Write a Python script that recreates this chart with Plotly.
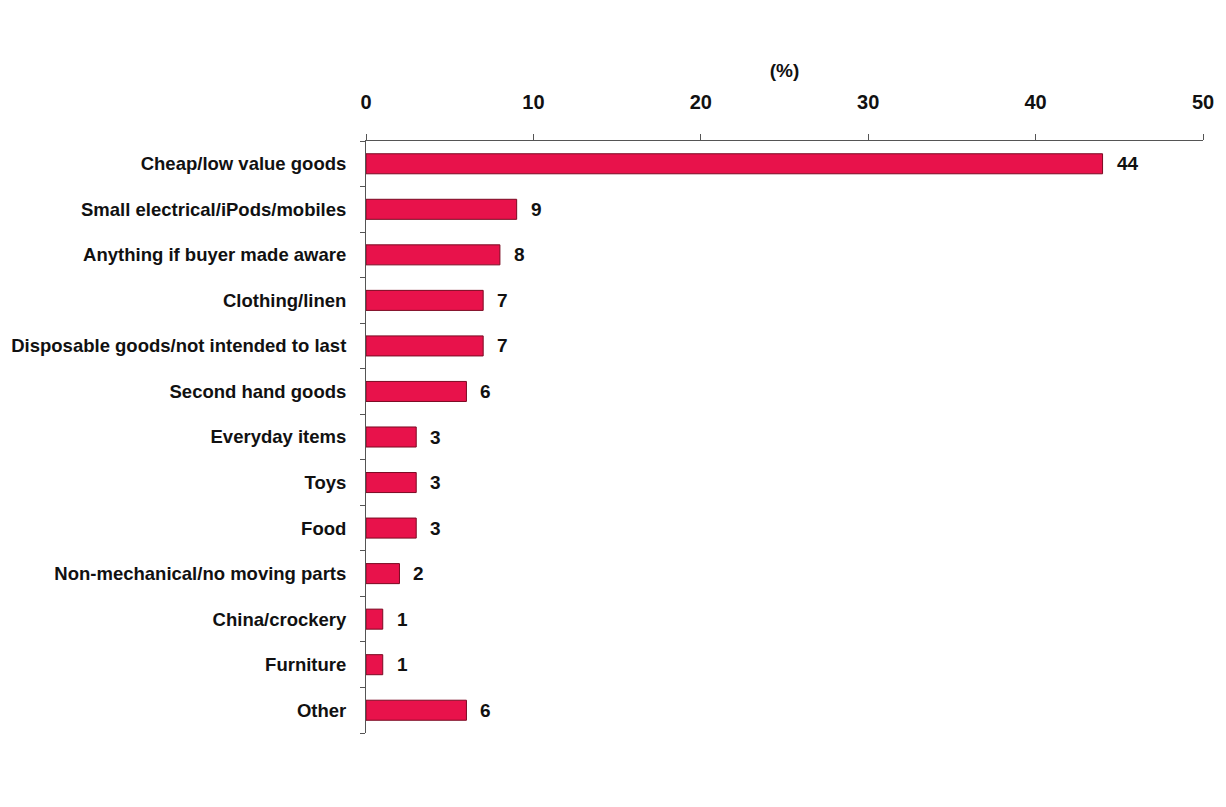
import plotly.graph_objects as go

categories = [
    "Cheap/low value goods",
    "Small electrical/iPods/mobiles",
    "Anything if buyer made aware",
    "Clothing/linen",
    "Disposable goods/not intended to last",
    "Second hand goods",
    "Everyday items",
    "Toys",
    "Food",
    "Non-mechanical/no moving parts",
    "China/crockery",
    "Furniture",
    "Other",
]
values = [44, 9, 8, 7, 7, 6, 3, 3, 3, 2, 1, 1, 6]
x_ticks = [0, 10, 20, 30, 40, 50]

FONT = "Liberation Sans, Arial, sans-serif"

fig = go.Figure(
    go.Bar(
        x=values,
        y=categories,
        orientation="h",
        width=0.44,
        marker=dict(color="#E8124B", line=dict(color="#7A0A22", width=1)),
        hoverinfo="x+y",
    )
)

# value labels just right of each bar
for cat, val in zip(categories, values):
    fig.add_annotation(
        x=val, y=cat, text=f"<b>{val}</b>", showarrow=False,
        xanchor="left", xshift=12,
        font=dict(family=FONT, size=19, color="#111111"),
    )

# page body adds an 8px offset, margins allow for it
fig.update_layout(
    width=1226,
    height=807,
    margin=dict(l=358, r=31, t=133, b=82),
    plot_bgcolor="white",
    paper_bgcolor="white",
    showlegend=False,
    font=dict(family=FONT, size=18, color="#111111"),
)

fig.update_xaxes(
    side="top",
    range=[0, 50],
    tickvals=x_ticks,
    ticktext=[f"<b>{t}</b>" for t in x_ticks],
    showgrid=False,
    zeroline=False,
    showline=True,
    linecolor="#555555",
    linewidth=1,
    ticks="outside",
    ticklen=6,
    tickcolor="#555555",
    ticklabelstandoff=17,
    automargin=False,
    tickfont=dict(family=FONT, size=20, color="#111111"),
    title=dict(text="<b>(%)</b>", standoff=8, font=dict(family=FONT, size=19, color="#111111")),
)

fig.update_yaxes(
    autorange="reversed",
    showgrid=False,
    showline=True,
    linecolor="#555555",
    linewidth=1,
    ticks="outside",
    tickson="boundaries",
    ticklen=5,
    tickcolor="#555555",
    ticklabelstandoff=15,
    automargin=False,
    tickvals=categories,
    ticktext=[f"<b>{c}</b>" for c in categories],
    tickfont=dict(family=FONT, size=18.5, color="#111111"),
)

fig.write_html("out.html")
